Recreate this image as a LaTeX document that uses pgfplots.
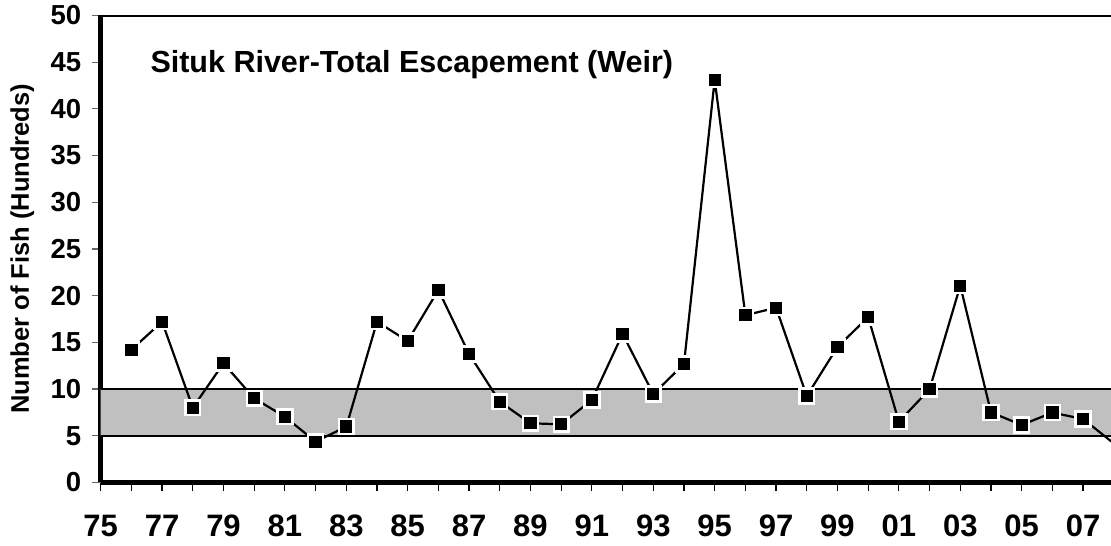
\documentclass[border=0pt]{standalone}
\usepackage{pgfplots}
\pgfplotsset{compat=1.18}
\usepackage{fontspec}
\setmainfont{Liberation Sans}
\definecolor{bandgray}{RGB}{192,192,192}
\begin{document}
\begin{tikzpicture}
\begin{axis}[
  name=ax,
  scale only axis,
  width=1010.3pt, height=467pt,
  xmin=1975, xmax=2007.91,
  ymin=0, ymax=50,
  axis lines*=left,
  axis line style={line width=5pt},
  clip=true,
  tick align=outside,
  xtick={1975,1977,...,2007},
  xticklabels={75,77,79,81,83,85,87,89,91,93,95,97,99,01,03,05,07},
  minor xtick={1976,1978,...,2006},
  ytick={0,5,...,50},
  major tick length=9pt,
  minor tick length=9pt,
  xtick style={black, line width=1.2pt},
  minor tick style={black, line width=1.2pt},
  ytick style={black!60, line width=1.2pt},
  /pgf/number format/assume math mode=true,
  xticklabel style={font=\fontsize{31}{31}\selectfont\bfseries, yshift=-20pt},
  yticklabel style={font=\fontsize{27.5}{27.5}\selectfont\bfseries, xshift=-7pt},
  ylabel={Number of Fish (Hundreds)},
  ylabel style={font=\fontsize{25.5}{25.5}\selectfont\bfseries, at={(axis description cs:-0.0775,0.5)}, anchor=center},
]
\addplot[draw=none, fill=bandgray] coordinates {(1975,5) (2010,5) (2010,10) (1975,10) (1975,5)};
\addplot[black, line width=2pt] coordinates {(1975,5) (2010,5)};
\addplot[black, line width=2pt] coordinates {(1975,10) (2010,10)};
\addplot[black, line width=2.2pt, mark=square*, mark size=7.4pt,
  mark options={fill=black, draw=white, line width=2.5pt}] coordinates {
(1976,14.2) (1977,17.2) (1978,8.0) (1979,12.75) (1980,9.0) (1981,7.03)
(1982,4.36) (1983,5.97) (1984,17.2) (1985,15.14) (1986,20.6) (1987,13.75)
(1988,8.64) (1989,6.33) (1990,6.22) (1991,8.82) (1992,15.9) (1993,9.46)
(1994,12.68) (1995,43.1) (1996,17.9) (1997,18.7) (1998,9.25) (1999,14.5)
(2000,17.7) (2001,6.5) (2002,9.97) (2003,21.06) (2004,7.5) (2005,6.15)
(2006,7.47) (2007,6.79) (2008,4.18)};
\draw[line width=3.8pt] (rel axis cs:0,1) -- (rel axis cs:1,1);
\node[anchor=base west, font=\fontsize{30.5}{30.5}\selectfont\bfseries] at (axis description cs:0.0458,0.8767) {Situk River-Total Escapement (Weir)};
\end{axis}
\pgfresetboundingbox
\path[use as bounding box] ([shift={(-100.7pt,-63.6pt)}]ax.south west) rectangle ([shift={(1010.3pt,482.4pt)}]ax.south west);
\end{tikzpicture}
\end{document}
